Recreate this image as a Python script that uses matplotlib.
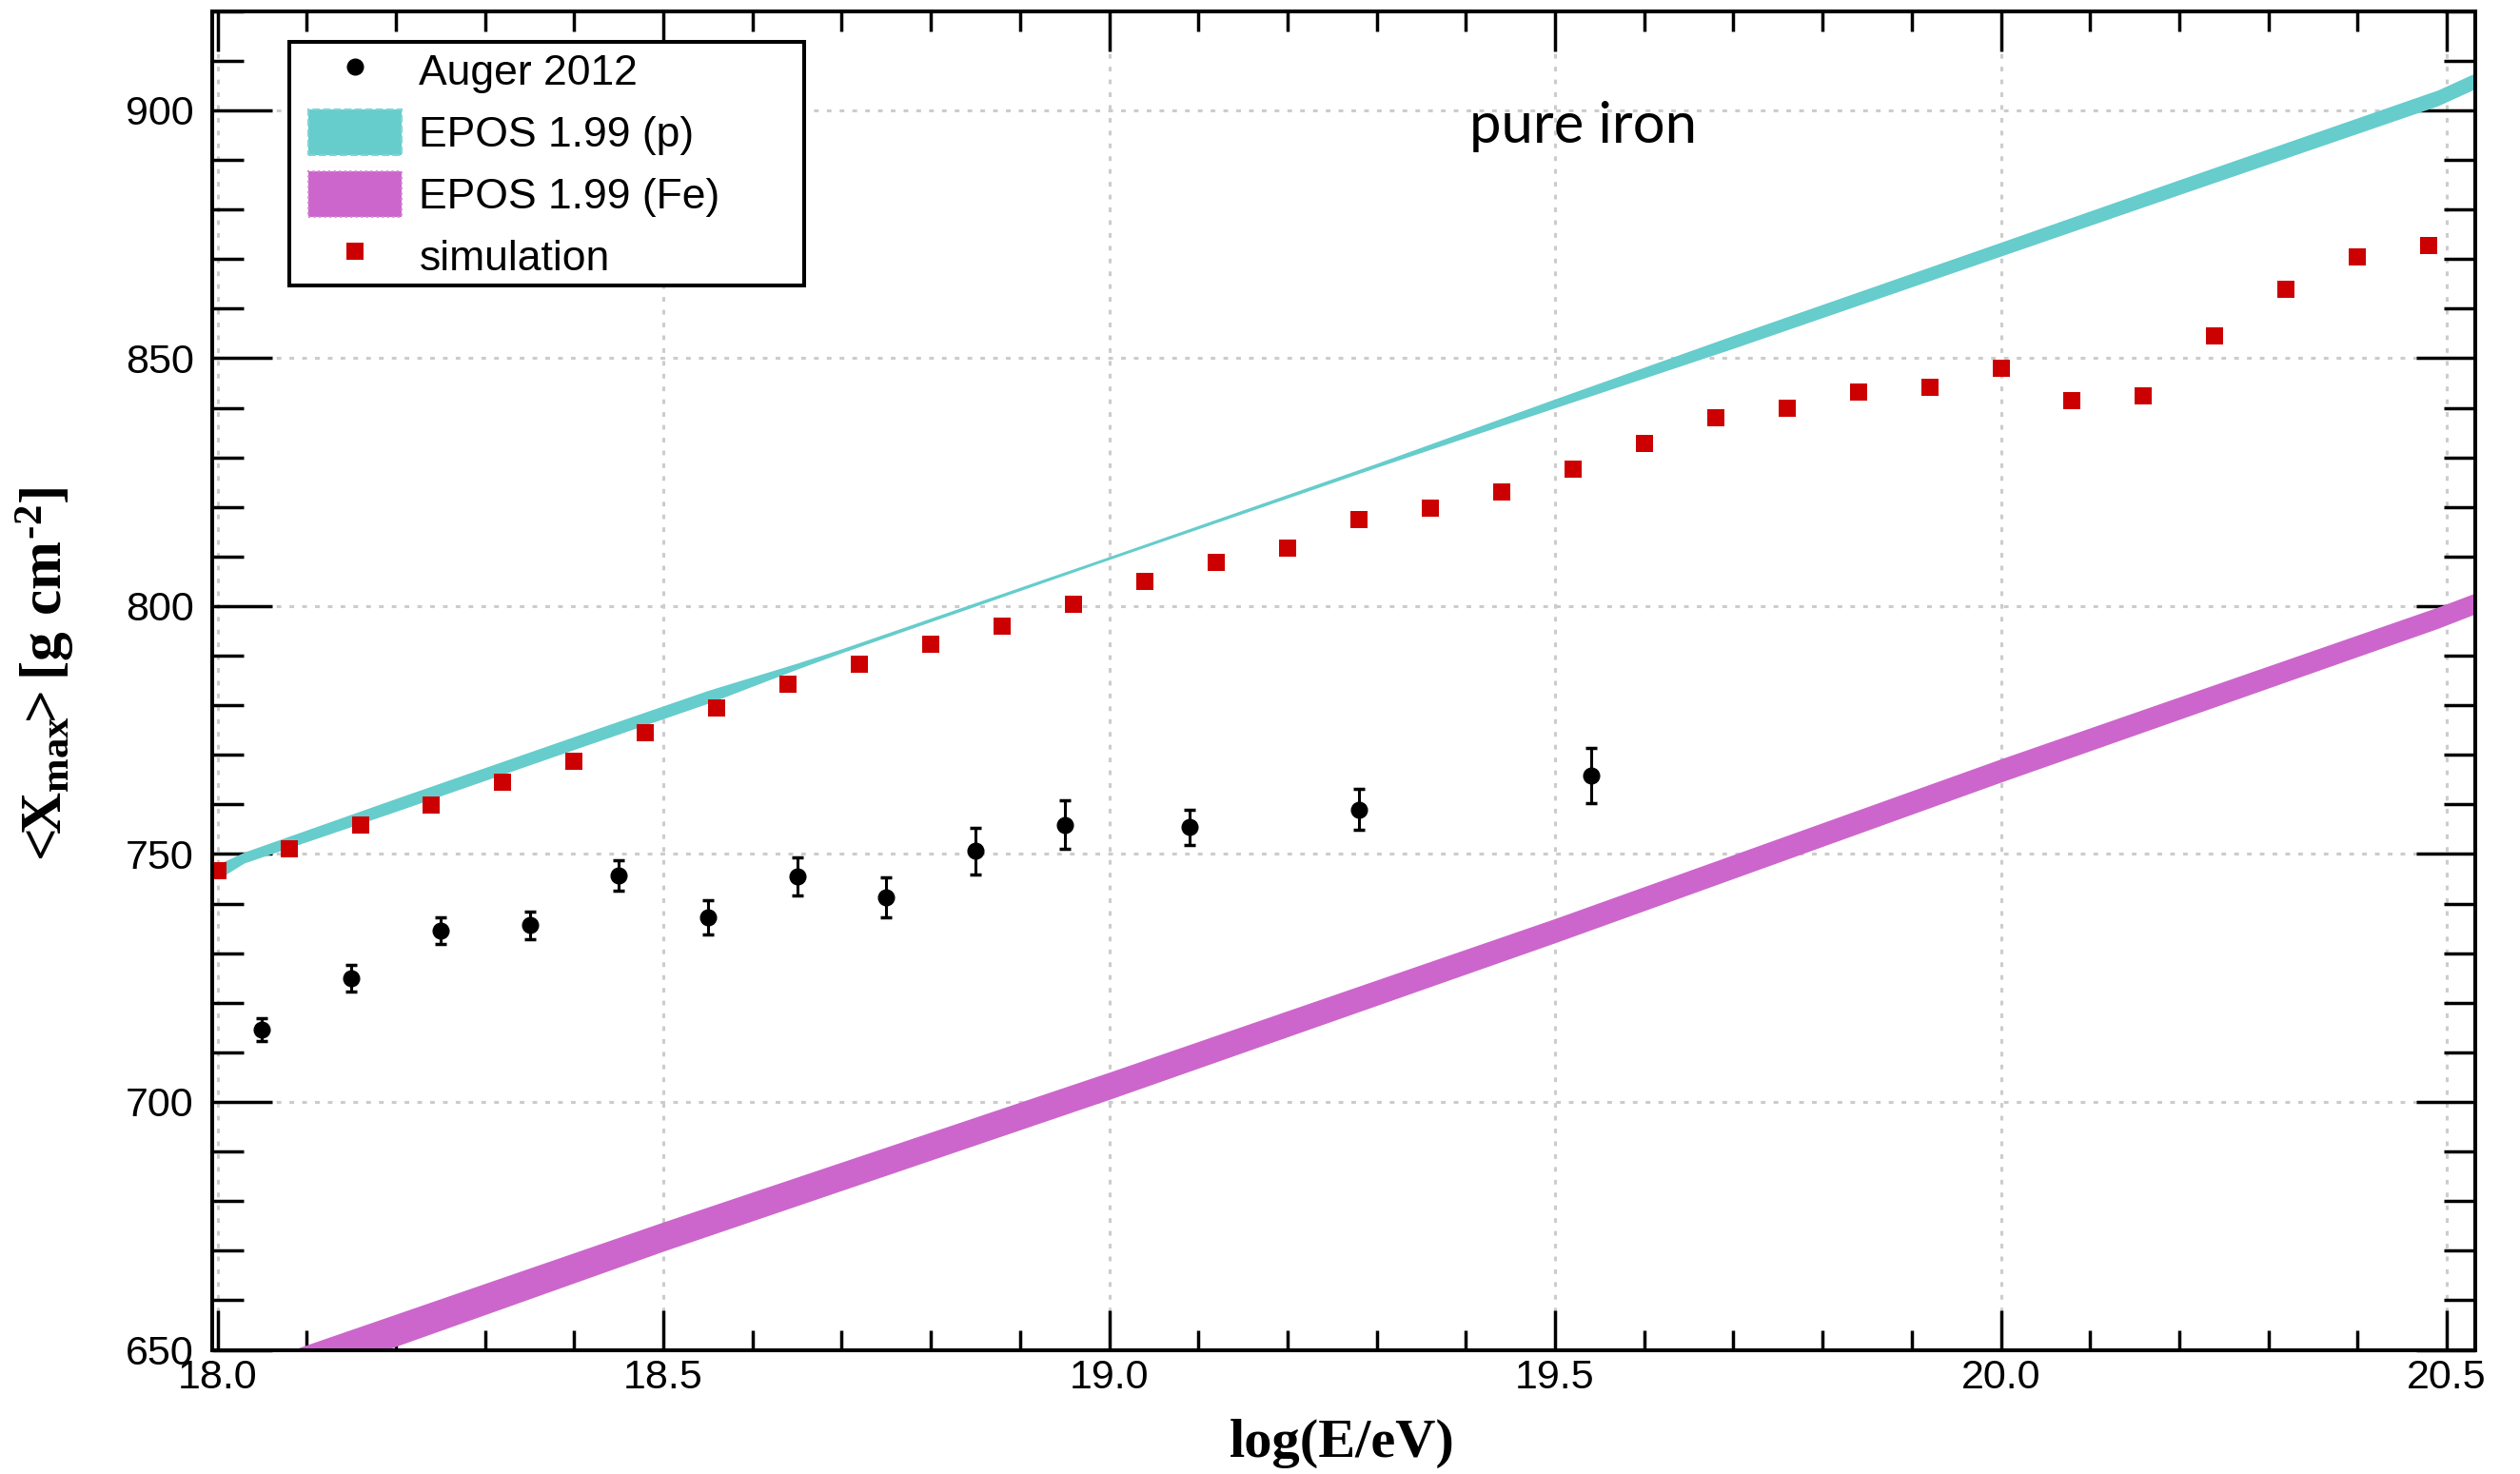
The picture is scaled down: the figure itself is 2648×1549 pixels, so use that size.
import numpy as np
import matplotlib
matplotlib.use('Agg')
import matplotlib.pyplot as plt
from matplotlib.patches import Patch, Rectangle
from matplotlib.lines import Line2D
from matplotlib.ticker import MultipleLocator, FormatStrFormatter

# ---------------- data ----------------
auger_lgE = [18.05, 18.15, 18.25, 18.35, 18.45, 18.55, 18.65, 18.75, 18.85, 18.95, 19.09, 19.28, 19.54]
auger_xmax = [714.5, 724.9, 734.6, 735.6, 745.7, 737.2, 745.5, 741.2, 750.6, 755.9, 755.4, 759.0, 765.8]
auger_err = [2.3, 2.7, 2.7, 2.7, 3.1, 3.4, 3.8, 4.0, 4.7, 4.9, 3.5, 4.1, 5.6]

sim_lgE = [18.00, 18.08, 18.16, 18.24, 18.32, 18.40, 18.48, 18.56, 18.64, 18.72, 18.80,
           18.88, 18.96, 19.04, 19.12, 19.20, 19.28, 19.36, 19.44, 19.52, 19.60, 19.68,
           19.76, 19.84, 19.92, 20.00, 20.08, 20.16, 20.24, 20.32, 20.40, 20.48]
sim_xmax = [746.6, 751.1, 755.8, 759.9, 764.4, 768.7, 774.5, 779.4, 784.2, 788.2, 792.3,
            795.9, 800.3, 805.0, 808.8, 811.7, 817.5, 819.7, 823.0, 827.7, 832.8, 837.9,
            840.0, 843.1, 844.1, 847.9, 841.5, 842.5, 854.5, 863.9, 870.4, 872.8]

proton_lgE = [18.00, 18.03, 18.20, 18.40, 18.55, 18.65, 18.70, 19.00, 19.30, 19.50, 19.70, 20.00, 20.20, 20.49, 20.54]
proton_lo = [744.9, 748.2, 758.6, 771.1, 780.4, 787.3, 790.6, 809.4, 828.0, 840.0, 852.0, 870.6, 883.0, 900.9, 905.0]
proton_hi = [747.9, 750.4, 761.2, 773.7, 783.0, 788.5, 791.4, 810.0, 828.8, 841.8, 854.6, 873.4, 886.0, 904.1, 908.2]

iron_lgE = [18.00, 18.50, 19.00, 19.50, 20.00, 20.49, 20.54]
iron_lo = [637.9, 669.9, 700.5, 732.1, 764.5, 795.5, 799.0]
iron_hi = [644.8, 675.8, 706.0, 737.0, 769.2, 799.8, 803.2]

legend_labels = ["Auger 2012", "EPOS 1.99 (p)", "EPOS 1.99 (Fe)", "simulation"]

# ---------------- style ----------------
plt.rcParams['mathtext.fontset'] = 'custom'
plt.rcParams['mathtext.rm'] = 'Liberation Serif:bold'
plt.rcParams['mathtext.it'] = 'Liberation Serif:bold'
plt.rcParams['mathtext.bf'] = 'Liberation Serif:bold'

CYAN = '#66cccc'
MAGENTA = '#cc66cc'
RED = '#cc0000'

W, H = 2648, 1549
fig = plt.figure(figsize=(W / 100, H / 100), dpi=100)
ax_l, ax_r, ax_t, ax_b = 223, 2601, 11.7, 1418.5
ax = fig.add_axes([ax_l / W, 1 - ax_b / H, (ax_r - ax_l) / W, (ax_b - ax_t) / H])

ax.set_xlim(17.994, 20.532)
ax.set_ylim(650, 920)

ax.set_axisbelow(True)
ax.grid(True, which='major', color='#cccccc', lw=2.2, linestyle=(0, (1.6, 2.8)))

ax.fill_between(proton_lgE, proton_lo, proton_hi, color=CYAN, lw=0, zorder=1)
ax.fill_between(iron_lgE, iron_lo, iron_hi, color=MAGENTA, lw=0, zorder=1)

ax.errorbar(auger_lgE, auger_xmax, yerr=auger_err, fmt='o', color='k', ms=12,
            elinewidth=2.2, capsize=4.3, capthick=2.5, zorder=4)
ax.plot(sim_lgE, sim_xmax, ls='none', marker='s', color=RED, ms=13, mew=0, zorder=3)

ax.xaxis.set_major_locator(MultipleLocator(0.5))
ax.xaxis.set_minor_locator(MultipleLocator(0.1))
ax.yaxis.set_major_locator(MultipleLocator(50))
ax.yaxis.set_minor_locator(MultipleLocator(10))
ax.xaxis.set_major_formatter(FormatStrFormatter('%.1f'))
ax.yaxis.set_major_formatter(FormatStrFormatter('%d'))

ax.tick_params(axis='both', which='both', direction='in', top=True, right=True, width=2.5, color='k')
ax.tick_params(axis='x', which='major', length=30, pad=7)
ax.tick_params(axis='x', which='minor', length=15)
ax.tick_params(axis='y', which='major', length=45, pad=14)
ax.tick_params(axis='y', which='minor', length=24)
for lab in ax.get_xticklabels() + ax.get_yticklabels():
    lab.set_fontfamily('Liberation Sans')
    lab.set_fontsize(31)
for sp in ax.spines.values():
    sp.set_linewidth(2.9)
    sp.set_zorder(6)

# legend
handles = [
    Line2D([], [], ls='none', marker='o', color='k', ms=12),
    Patch(facecolor=CYAN, edgecolor='#7fd6d6', linestyle='--', lw=1.5),
    Patch(facecolor=MAGENTA, edgecolor='#d68ad6', linestyle=':', lw=1.5),
    Line2D([], [], ls='none', marker='s', color=RED, ms=13, mew=0),
]
axw = ax_r - ax_l
axh = ax_b - ax_t
leg = ax.legend(handles, legend_labels, loc='upper left',
                bbox_to_anchor=((324 - ax_l) / axw, (ax_b - 50) / axh),
                borderaxespad=0, borderpad=0, frameon=False,
                prop={'family': 'Liberation Sans', 'size': 32},
                handlelength=2.2, handleheight=1.3, handletextpad=0.42,
                labelspacing=0.37)
leg.set_zorder(10)
frame = Rectangle(((304 - ax_l) / axw, (ax_b - 300) / axh), (845 - 304) / axw, (300 - 44) / axh,
                  transform=ax.transAxes, facecolor='white', edgecolor='k', lw=2.9, zorder=9)
ax.add_patch(frame)

ax.text(19.404, 893.5, 'pure iron', family='Lato', fontsize=43, va='baseline', ha='left', zorder=5)

fig.text(1410 / W, 1 - 1517 / H, 'log(E/eV)', family='Liberation Serif', weight='bold',
         fontsize=42, ha='center', va='center')
fig.text(48 / W, 1 - 713 / H, r'$<\!\!X_{max}\!\!>[g\ cm^{\text{-}2}]$', fontsize=44,
         rotation=90, ha='center', va='center')

fig.savefig('out.png', dpi=100)
